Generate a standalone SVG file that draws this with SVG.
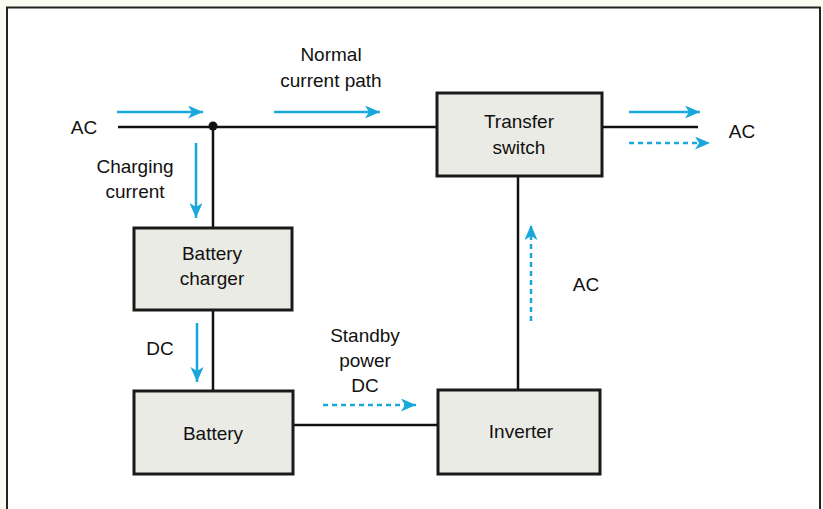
<svg xmlns="http://www.w3.org/2000/svg" width="823" height="509" viewBox="0 0 823 509">
<defs>
<marker id="ah" markerUnits="userSpaceOnUse" markerWidth="16" markerHeight="14" refX="15" refY="6.5" orient="auto">
<path d="M0,0 L15,6.5 L0,13 L4,6.5 Z" fill="#18a8dc"/>
</marker>
</defs>
<style>
.bg{fill:#fbfbf1}
.frame{fill:#ffffff;stroke:#222;stroke-width:2}
.box{fill:#ebebe5;stroke:#1a1a1a;stroke-width:3}
.wire{fill:none;stroke:#111;stroke-width:2.5}
.flow{fill:none;stroke:#18a8dc;stroke-width:2.5;marker-end:url(#ah)}
.dash{stroke-dasharray:5 4}
text{font-family:"Liberation Sans",Arial,sans-serif;font-size:19px;fill:#111}
.c{text-anchor:middle}
</style>
<rect class="bg" x="0" y="0" width="823" height="509"/>
<rect class="frame" x="7" y="7.5" width="813" height="520"/>

<g id="connectors">
<path class="wire" d="M118,127 H437"/>
<path class="wire" d="M213,127 V228"/>
<path class="wire" d="M213,310 V391"/>
<path class="wire" d="M293,425 H438"/>
<path class="wire" d="M518,390 V176"/>
<path class="wire" d="M602,127 H698"/>
<circle cx="213" cy="126" r="4.5" fill="#111"/>
<path class="flow" d="M117,112 H203"/>
<path class="flow" d="M274,112 H380"/>
<path class="flow" d="M629,112 H700"/>
<path class="flow dash" d="M629,143 H710"/>
<path class="flow dash" d="M323,405 H416"/>
<path class="flow dash" d="M531,321 V225"/>
<path class="flow" d="M196,143 V218"/>
<path class="flow" d="M197,323 V382"/>
</g>

<g id="labels">
<text x="84" y="134" class="c">AC</text>
<text x="331" y="61" class="c">Normal</text>
<text x="331" y="87" class="c">current path</text>
<text x="135" y="173" class="c">Charging</text>
<text x="135" y="198" class="c">current</text>
<text x="160" y="355" class="c">DC</text>
<text x="365" y="342" class="c">Standby</text>
<text x="365" y="367" class="c">power</text>
<text x="365" y="392" class="c">DC</text>
<text x="586" y="291" class="c">AC</text>
<text x="742" y="138" class="c">AC</text>
</g>

<g id="transfer-switch">
<rect class="box" x="437" y="93" width="165" height="83"/>
<text x="519" y="128" class="c">Transfer</text>
<text x="519" y="154" class="c">switch</text>
</g>
<g id="battery-charger">
<rect class="box" x="134" y="228" width="158" height="82"/>
<text x="212" y="260" class="c">Battery</text>
<text x="212" y="285" class="c">charger</text>
</g>
<g id="battery">
<rect class="box" x="134" y="391" width="159" height="83"/>
<text x="213" y="440" class="c">Battery</text>
</g>
<g id="inverter">
<rect class="box" x="438" y="390" width="162" height="84"/>
<text x="521" y="438" class="c">Inverter</text>
</g>
</svg>
